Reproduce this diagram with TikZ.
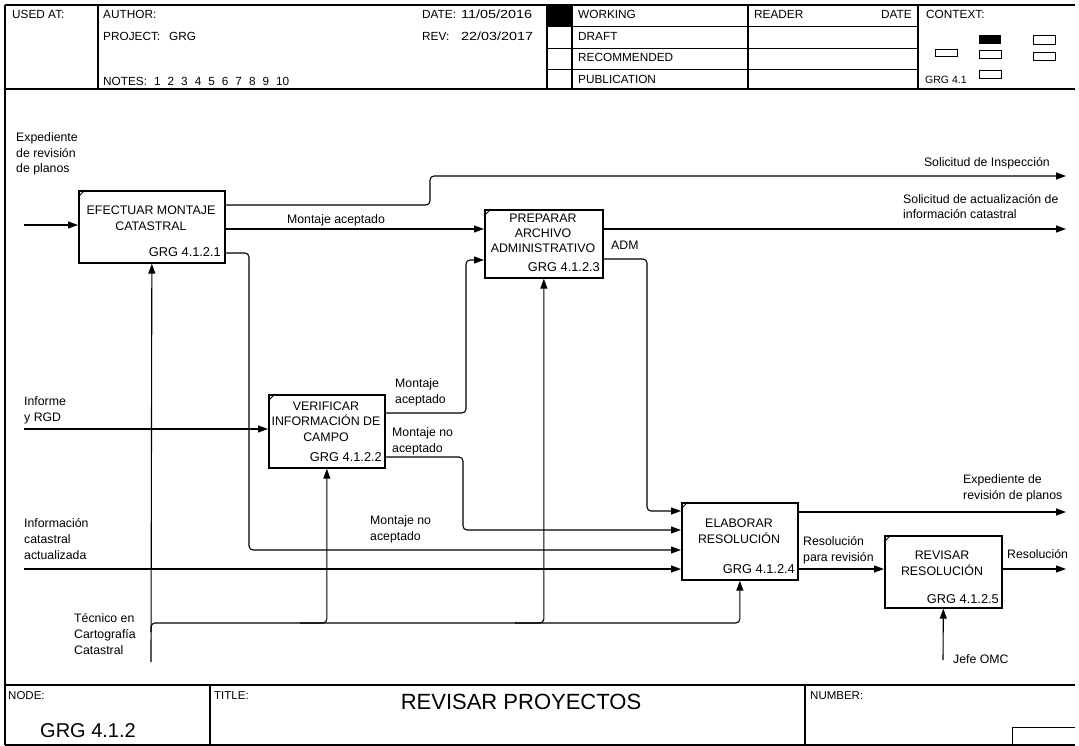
\documentclass[tikz,border=0pt]{standalone}
\usepackage{fontspec}
\setmainfont{Liberation Sans}
\usetikzlibrary{arrows.meta}
\begin{document}
\begin{tikzpicture}[x=1pt,y=-1pt,
 box/.style={draw,line width=1.7pt,inner sep=0pt,anchor=north west},
 ttl/.style={font=\fontsize{12.4}{15.4}\selectfont,align=center,inner sep=0pt,anchor=base},
 idt/.style={font=\fontsize{12.8}{14}\selectfont,inner sep=0pt,anchor=base east},
 lbl/.style={font=\fontsize{12.3}{15.6}\selectfont,align=left,inner sep=0pt,anchor=base west},
 con/.style={line width=1.1pt,rounded corners=4pt},
 arr/.style={con,-{Triangle[length=10pt,width=7pt]}},
 hd/.style={font=\fontsize{11.8}{13}\selectfont,inner sep=0pt,anchor=base west},
 ft/.style={font=\fontsize{11.5}{13}\selectfont,inner sep=0pt,anchor=base west},
 frm/.style={line width=1.3pt},
 thin/.style={line width=0.9pt},
 corner/.style={line width=1pt},
]
\useasboundingbox (0,0) rectangle (1079,746);
% ---------- frame ----------
\draw[frm] (5,5) -- (1075,5);
\draw[frm] (5,89) -- (1075,89);
\draw[frm] (5,5) -- (5,745);
\draw[frm] (98,5) -- (98,89);
\draw[frm] (547,5) -- (547,89);
\draw[frm] (572,5) -- (572,89);
\draw[frm] (748,5) -- (748,89);
\draw[frm] (918,5) -- (918,89);
\draw[thin] (547,26.5) -- (918,26.5);
\draw[thin] (547,48) -- (918,48);
\draw[thin] (547,69) -- (918,69);
\fill (548,5) rectangle (572,26.5);
% header texts
\node[hd] (hUsed) at (12,19) {USED AT:};
\node[hd] (hAuth) at (103,19) {AUTHOR:};
\node[hd] (hProj) at (103,41) {PROJECT:\hspace{9pt}GRG};
\node[hd] (hNotes) at (103,86) {NOTES:\hspace{7pt}1\hspace{7pt}2\hspace{7pt}3\hspace{7pt}4\hspace{7pt}5\hspace{7pt}6\hspace{7pt}7\hspace{7pt}8\hspace{7pt}9\hspace{7pt}10};
\node[hd] (hDate) at (422,19) {DATE:};
\node[hd] (hDateV) at (461,19) {\scalebox{1.22}[1]{11/05/2016}};
\node[hd] (hRev) at (422,41) {REV:};
\node[hd] (hRevV) at (461,41) {\scalebox{1.22}[1]{22/03/2017}};
\node[hd] (hWork) at (578,19) {WORKING};
\node[hd] (hDraft) at (578,41) {DRAFT};
\node[hd] (hRec) at (578,62) {RECOMMENDED};
\node[hd] (hPub) at (578,84) {PUBLICATION};
\node[hd] (hRead) at (754,19) {READER};
\node[hd,anchor=base east] (hRDate) at (912,19) {DATE};
\node[hd] (hCtx) at (926,19) {CONTEXT:};
\node[hd,font=\fontsize{10.5}{12}\selectfont] (hCtxN) at (925,84) {GRG 4.1};
\fill (979,35) rectangle (1001,44);
\draw[thin] (1033,35) rectangle (1055,44);
\draw[thin] (935,49) rectangle (957,56);
\draw[thin] (979,50) rectangle (1001,58);
\draw[thin] (1033,52) rectangle (1055,60);
\draw[thin] (979,70) rectangle (1001,78);
% footer
\draw[frm] (5,685) -- (1075,685);
\draw[frm] (5,745) -- (1075,745);
\draw[frm] (210,685) -- (210,745);
\draw[frm] (805,685) -- (805,745);
\draw[thin] (1012,745) -- (1012,727) -- (1075,727);
\node[ft] (fNode) at (8,699) {NODE:};
\node[ft] (fTitle) at (214,699) {TITLE:};
\node[ft] (fNum) at (810,699) {NUMBER:};
\node[inner sep=0pt,anchor=base,font=\fontsize{22}{26}\selectfont] (fTitleV) at (521,709) {REVISAR PROYECTOS};
\node[inner sep=0pt,anchor=base,font=\fontsize{20}{24}\selectfont] (fNodeV) at (88,737) {GRG 4.1.2};
% ---------- boxes ----------
\node[box,minimum width=146pt,minimum height=72pt] (b1) at (78,190) {};
\node[box,minimum width=116pt,minimum height=73pt] (b2) at (268,394) {};
\node[box,minimum width=118pt,minimum height=68pt] (b3) at (484,209) {};
\node[box,minimum width=116pt,minimum height=77pt] (b4) at (681,502) {};
\node[box,minimum width=117pt,minimum height=72pt] (b5) at (884,535) {};
\foreach \b in {b1,b2,b3,b4,b5}{
  \draw[corner] ([yshift=-7pt]\b.north west) -- ([xshift=7pt]\b.north west);
}
% multi-line nodes: base anchor = baseline of the last line
\node[ttl] (t1) at (151,230) {EFECTUAR MONTAJE\\CATASTRAL};
\node[ttl] (t2) at (326,441) {VERIFICAR\\INFORMACIÓN DE\\CAMPO};
\node[ttl] (t3) at (543,253) {PREPARAR\\ARCHIVO\\ADMINISTRATIVO};
\node[ttl] (t4) at (739,543) {ELABORAR\\RESOLUCIÓN};
\node[ttl] (t5) at (942,575) {REVISAR\\RESOLUCIÓN};
\node[idt] (i1) at (221,256) {GRG 4.1.2.1};
\node[idt] (i2) at (382,461) {GRG 4.1.2.2};
\node[idt] (i3) at (600,272) {GRG 4.1.2.3};
\node[idt] (i4) at (795,573) {GRG 4.1.2.4};
\node[idt] (i5) at (999,603) {GRG 4.1.2.5};
% ---------- connectors ----------
\coordinate (in1) at (24,225);
\coordinate (in2) at (24,429);
\coordinate (in3) at (24,569);
\coordinate (o1) at (1066,176);
\coordinate (o2) at (1066,229);
\coordinate (o3) at (1066,512);
\coordinate (o4) at (1066,569);
\coordinate (m1) at (151,662);
\coordinate (m1b) at (151,632);
\coordinate (m2) at (943,660);
\draw[arr] (in1) -- (in1 -| b1.west);
\draw[arr] (b1.east |- 0,205) -- (430,205) -- (430,176) -- (o1);
\draw[arr] (b1.east |- 0,229) -- (b3.west |- 0,229);
\draw[arr] (b3.east |- o2) -- (o2);
\draw[arr] (b1.east |- 0,253) -- (249,253) -- (249,550) -- (b4.west |- 0,550);
\draw[arr] (b2.east |- 0,413) -- (466,413) -- (466,260) -- (b3.west |- 0,260);
\draw[arr] (b2.east |- 0,457) -- (463,457) -- (463,530) -- (b4.west |- 0,530);
\draw[arr] (b3.east |- 0,259) -- (647,259) -- (647,511) -- (b4.west |- 0,511);
\draw[arr] (in2) -- (in2 -| b2.west);
\draw[arr] (in3) -- (in3 -| b4.west);
\draw[arr] (m1) -- (b1.south);
\draw[arr] (m1b) -- (151,623) -- (b4.south |- 0,623) -- (b4.south);
\draw[arr] (300,623) -- (b2.south |- 0,623) -- (b2.south);
\draw[arr] (515,623) -- (b3.south |- 0,623) -- (b3.south);
\draw[arr] (b4.east |- o3) -- (o3);
\draw[arr] (b4.east |- 0,569) -- (b5.west |- 0,569);
\draw[arr] (b5.east |- o4) -- (o4);
\draw[arr] (m2) -- (b5.south);
% ---------- labels ----------
\node[lbl] (l1) at (16,173) {Expediente\\de revisión\\de planos};
\node[lbl,anchor=base east] (l2) at (1050,167) {Solicitud de Inspección};
\node[lbl] (l3) at (903,219) {Solicitud de actualización de\\información catastral};
\node[lbl,anchor=base] (l4) at (336,224) {Montaje aceptado};
\node[lbl] (l5) at (611,249) {ADM};
\node[lbl] (l6) at (395,403) {Montaje\\aceptado};
\node[lbl] (l7) at (392,452) {Montaje no\\aceptado};
\node[lbl] (l8) at (370,540) {Montaje no\\aceptado};
\node[lbl] (l9) at (24,421) {Informe\\y RGD};
\node[lbl] (l10) at (24,559) {Información\\catastral\\actualizada};
\node[lbl] (l11) at (74,654) {Técnico en\\Cartografía\\Catastral};
\node[lbl] (l12) at (963,499) {Expediente de\\revisión de planos};
\node[lbl] (l13) at (803,561) {Resolución\\para revisión};
\node[lbl] (l14) at (1007,558) {Resolución};
\node[lbl] (l15) at (953,663) {Jefe OMC};
\end{tikzpicture}
\end{document}
